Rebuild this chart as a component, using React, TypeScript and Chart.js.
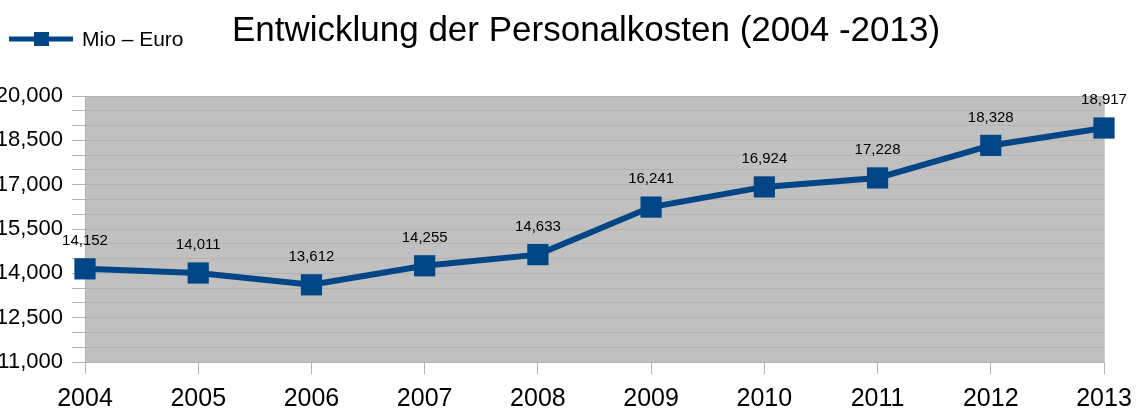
import React, { useEffect, useRef } from "react";
import { Chart, registerables } from "chart.js";

Chart.register(...registerables);

const TITLE = "Entwicklung der Personalkosten (2004 -2013)";
const SERIES_LABEL = "Mio – Euro";
const YEARS = ["2004", "2005", "2006", "2007", "2008", "2009", "2010", "2011", "2012", "2013"];
const COSTS = [14152, 14011, 13612, 14255, 14633, 16241, 16924, 17228, 18328, 18917];
const Y_MIN = 11000;
const Y_MAX = 20000;
const Y_MINOR_STEP = 500;
const Y_LABEL_STEP = 1500;

const FONT = "'Liberation Sans', Arial, sans-serif";
const BLUE = "#004586";
const GRID = "#b3b3b3";
const PLOT_BG = "#c0c0c0";

const fmt = (v: number) => v.toLocaleString("en-US");

const decorPlugin = {
  id: "decor",
  beforeDraw(chart: any) {
    const { ctx, chartArea } = chart;
    ctx.save();
    ctx.fillStyle = PLOT_BG;
    ctx.fillRect(chartArea.left, chartArea.top, chartArea.right - chartArea.left, chartArea.bottom - chartArea.top);
    ctx.restore();
  },
  beforeDatasetsDraw(chart: any) {
    const { ctx, chartArea } = chart;
    ctx.save();
    ctx.strokeStyle = "#cfcfcf";
    ctx.lineWidth = 1;
    ctx.beginPath();
    ctx.moveTo(chartArea.right + 0.5, chartArea.top);
    ctx.lineTo(chartArea.right + 0.5, chartArea.bottom);
    ctx.stroke();
    ctx.restore();
  },
  afterDraw(chart: any) {
    const { ctx } = chart;
    ctx.save();
    // title
    ctx.fillStyle = "#000";
    ctx.font = `35px ${FONT}`;
    ctx.textAlign = "center";
    ctx.textBaseline = "middle";
    ctx.fillText(TITLE, 586, 31);

    // legend
    ctx.strokeStyle = BLUE;
    ctx.lineWidth = 5;
    ctx.beginPath();
    ctx.moveTo(9, 39);
    ctx.lineTo(73, 39);
    ctx.stroke();
    ctx.fillStyle = BLUE;
    ctx.fillRect(34, 32, 15, 14);
    ctx.fillStyle = "#000";
    ctx.font = `21px ${FONT}`;
    ctx.textAlign = "left";
    ctx.textBaseline = "middle";
    ctx.fillText(chart.data.datasets[0].label, 82, 40);
    ctx.restore();
  },
  afterDatasetsDraw(chart: any) {
    const { ctx } = chart;
    const meta = chart.getDatasetMeta(0);
    const data = chart.data.datasets[0].data as number[];
    ctx.save();
    ctx.fillStyle = "#000";
    ctx.font = `15px ${FONT}`;
    ctx.textAlign = "center";
    ctx.textBaseline = "middle";
    meta.data.forEach((pt: any, i: number) => {
      ctx.fillText(fmt(data[i]), pt.x, pt.y - 28);
    });
    ctx.restore();
  },
};

export default function App() {
  const ref = useRef<HTMLCanvasElement | null>(null);
  useEffect(() => {
    if (!ref.current) return;
    const chart = new Chart(ref.current, {
      type: "line",
      data: {
        labels: YEARS,
        datasets: [
          {
            label: SERIES_LABEL,
            data: COSTS,
            borderColor: BLUE,
            backgroundColor: BLUE,
            borderWidth: 6,
            tension: 0,
            pointStyle: "rect",
            pointRadius: 15,
            pointHoverRadius: 15,
            pointBorderWidth: 0,
            pointBackgroundColor: BLUE,
            fill: false,
          },
        ],
      },
      options: {
        responsive: false,
        animation: false,
        layout: { padding: { top: 96, right: 34, left: 0, bottom: 0 } },
        plugins: {
          legend: { display: false },
          title: { display: false },
          tooltip: { enabled: false },
        },
        scales: {
          x: {
            type: "category",
            offset: false,
            grid: { drawOnChartArea: false, drawTicks: true, tickLength: 12, color: GRID },
            border: { color: GRID },
            ticks: {
              color: "#000",
              font: { size: 25, family: FONT },
              padding: 10,
              maxRotation: 0,
              autoSkip: false,
            },
            afterFit: (s: any) => {
              s.height = 52;
              s.paddingLeft = 0;
              s.paddingRight = 0;
            },
          },
          y: {
            min: Y_MIN,
            max: Y_MAX,
            grid: { color: GRID, tickLength: 13, drawTicks: true },
            border: { color: GRID },
            ticks: {
              stepSize: Y_MINOR_STEP,
              autoSkip: false,
              color: "#000",
              font: { size: 22, family: FONT },
              padding: 9,
              callback: (v: any) => ((Number(v) - Y_MIN) % Y_LABEL_STEP === 0 ? fmt(Number(v)) : ""),
            },
            afterFit: (s: any) => {
              s.width = 85;
              s.paddingTop = 0;
              s.paddingBottom = 0;
            },
          },
        },
      },
      plugins: [decorPlugin],
    });
    return () => chart.destroy();
  }, []);
  return (
    <div style={{ position: "fixed", left: 0, top: 0, width: 1138, height: 414, background: "#fff" }}>
      <canvas ref={ref} width={1138} height={414} style={{ display: "block" }} />
    </div>
  );
}
